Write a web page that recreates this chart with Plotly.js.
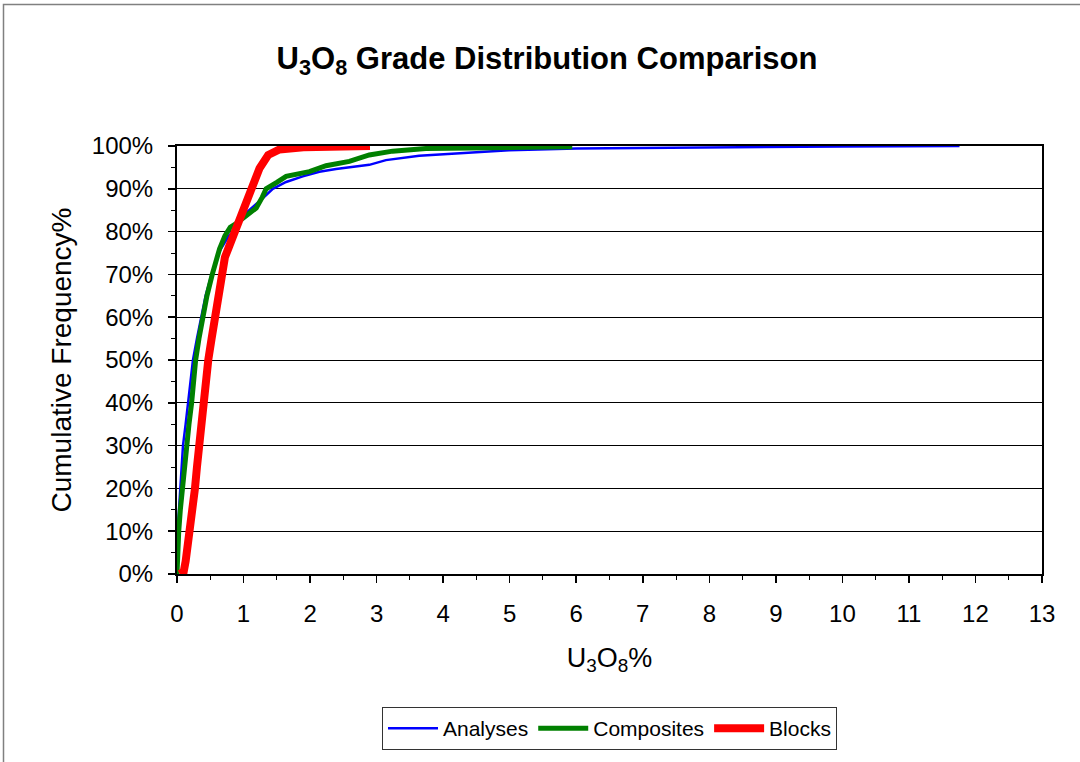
<!DOCTYPE html>
<html>
<head>
<meta charset="utf-8">
<script src="https://cdn.plot.ly/plotly-3.0.1.min.js"></script>
<style>html,body{margin:0;padding:0;background:#fff;}#chart{width:1080px;height:762px;}</style>
</head>
<body>
<div id="chart"></div>
<script>
// Cumulative frequency curves (x = U3O8 %, y = cumulative %)
const analysesX = [0, 0.005, 0.01, 0.03, 0.05, 0.07, 0.09, 0.13, 0.17, 0.2, 0.24, 0.3, 0.37, 0.43, 0.52, 0.6, 0.66, 0.78, 0.9, 1.04, 1.24, 1.44, 1.64, 1.89, 2.14, 2.39, 2.89, 3.14, 3.64, 4.24, 4.99, 6.0, 7.25, 8.5, 10.0, 11.76];
const analysesY = [0, 5, 10, 15, 20, 25, 30, 35, 40, 45, 50, 55, 60, 65, 70, 74, 76, 79, 81, 84.4, 87.1, 90, 91.6, 92.9, 94, 94.6, 95.6, 96.7, 97.7, 98.3, 99, 99.4, 99.6, 99.8, 99.9, 100];

const compositesX = [0, 0.01, 0.026, 0.05, 0.08, 0.11, 0.14, 0.18, 0.22, 0.25, 0.28, 0.33, 0.39, 0.45, 0.53, 0.58, 0.64, 0.72, 0.8, 0.9, 0.97, 1.05, 1.19, 1.28, 1.34, 1.5, 1.64, 1.99, 2.24, 2.59, 2.89, 3.24, 3.74, 4.74, 5.94];
const compositesY = [0, 5, 10, 15, 20, 25, 30, 35, 40, 45, 50, 55, 60, 65, 70, 73, 76, 79, 81, 82, 82.8, 84, 85.5, 88, 90, 91.5, 92.9, 94, 95.4, 96.4, 97.9, 98.8, 99.4, 99.6, 99.8];

const blocksX = [0.04, 0.1, 0.13, 0.17, 0.2, 0.24, 0.27, 0.3, 0.33, 0.36, 0.39, 0.43, 0.47, 0.52, 0.57, 0.62, 0.67, 0.72, 0.77, 0.87, 0.98, 1.09, 1.24, 1.37, 1.54, 1.9, 2.4, 2.9];
const blocksY = [0, 0.5, 3, 7, 10, 15, 20, 25, 30, 35, 40, 45, 50, 55, 60, 65, 70, 74, 76, 80, 85.5, 90, 94.8, 97.9, 99.2, 99.7, 99.9, 100];

const seriesNames = ["Analyses", "Composites", "Blocks"];
const xTickVals = [0,1,2,3,4,5,6,7,8,9,10,11,12,13];
const yTickVals = [0,0.1,0.2,0.3,0.4,0.5,0.6,0.7,0.8,0.9,1.0];

const pct = a => a.map(v => v / 100);

const traces = [
  {x: analysesX, y: pct(analysesY), name: seriesNames[0], mode: "lines", line: {color: "#0000ff", width: 2.5}},
  {x: compositesX, y: pct(compositesY), name: seriesNames[1], mode: "lines", line: {color: "#008000", width: 5}},
  {x: blocksX, y: pct(blocksY), name: seriesNames[2], mode: "lines", line: {color: "#ff0000", width: 8}}
];

const L = 177, R = 38, T = 146, B = 185;
const W = 1080, H = 762;
const pw = W - L - R, ph = H - T - B;
const px2x = p => (p - L) / pw;
const py2y = p => (H - B - p) / ph;

const font = "Liberation Sans, Arial, sans-serif";

const layout = {
  width: W, height: H,
  margin: {l: L, r: R, t: T, b: B},
  paper_bgcolor: "#ffffff",
  plot_bgcolor: "#ffffff",
  font: {family: font, color: "#000"},
  showlegend: true,
  title: {
    text: "<b>U<sub>3</sub>O<sub>8</sub> Grade Distribution Comparison</b>",
    font: {family: font, size: 31, color: "#000"},
    xref: "container", yref: "container",
    x: 547 / W, y: 1 - 58 / H, xanchor: "center", yanchor: "middle"
  },
  xaxis: {
    range: [0, 13],
    tickvals: xTickVals,
    ticktext: xTickVals.map(String),
    ticks: "outside", ticklen: 7, tickwidth: 1.5, tickcolor: "#000",
    minor: {ticks: "outside", ticklen: 4, dtick: 0.5, tickcolor: "#000", tickwidth: 1, showgrid: false},
    showgrid: false, zeroline: false,
    showline: true, linecolor: "#000", linewidth: 2, mirror: true,
    tickfont: {family: font, size: 24},
    ticklabelstandoff: 10,
    title: {text: "U<sub>3</sub>O<sub>8</sub>%", font: {family: font, size: 27}, standoff: 22},
    fixedrange: true
  },
  yaxis: {
    range: [0, 1],
    tickvals: yTickVals,
    tickformat: ".0%",
    ticks: "outside", ticklen: 7, tickwidth: 1.5, tickcolor: "#000",
    minor: {ticks: "outside", ticklen: 4, dtick: 0.05, tickcolor: "#000", tickwidth: 1, showgrid: false},
    showgrid: true, gridcolor: "#000", gridwidth: 1,
    zeroline: false,
    showline: true, linecolor: "#000", linewidth: 2, mirror: true,
    tickfont: {family: font, size: 24},
    ticklabelstandoff: 10,
    title: {text: "Cumulative Frequency%", font: {family: font, size: 28}, standoff: 12},
    fixedrange: true
  },
  legend: {
    orientation: "h",
    x: 0.5, xanchor: "center",
    y: py2y(711), yanchor: "top",
    bgcolor: "#fff", bordercolor: "#333", borderwidth: 1,
    font: {family: font, size: 21},
    itemwidth: 50, tracegroupgap: 0
  },
  shapes: [{
    type: "rect", xref: "paper", yref: "paper", layer: "below",
    x0: px2x(3.5), x1: px2x(W + 20), y0: py2y(H + 20), y1: py2y(3.5),
    line: {color: "#808080", width: 1.5}, fillcolor: "rgba(0,0,0,0)"
  }]
};

Plotly.newPlot("chart", traces, layout, {displayModeBar: false, staticPlot: true});
</script>
</body>
</html>
